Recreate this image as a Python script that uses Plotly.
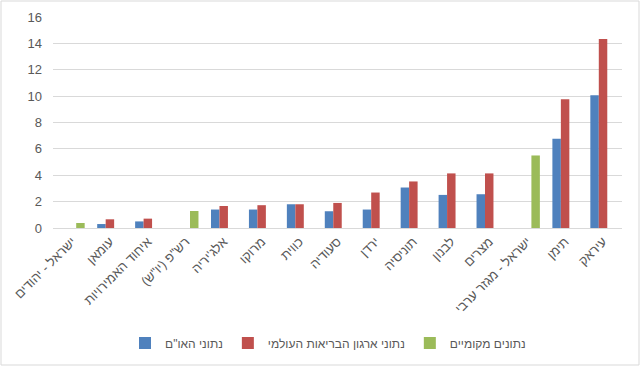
import plotly.graph_objects as go

categories = ["ישראל - יהודים", "עומאן", "איחוד האמירויות", "רש\"פ (יו\"ש)", "אלג'יריה",
              "מרוקו", "כווית", "סעודיה", "ירדן", "תוניסיה", "לבנון", "מצרים",
              "ישראל - מגזר ערבי", "תימן", "עיראק"]
un_values = [None, 0.3, 0.5, None, 1.4, 1.4, 1.8, 1.27, 1.4, 3.07, 2.51, 2.56, None, 6.77, 10.07]
who_values = [None, 0.66, 0.71, None, 1.67, 1.73, 1.8, 1.9, 2.69, 3.53, 4.14, 4.14, None, 9.76, 14.33]
local_values = [0.38, None, None, 1.29, None, None, None, None, None, None, None, None, 5.5, None, None]
series_names = ["נתוני האו\"ם", "נתוני ארגון הבריאות העולמי", "נתונים מקומיים"]
y_ticks = [0, 2, 4, 6, 8, 10, 12, 14, 16]

colors = ["#4F81BD", "#C0504D", "#9BBB59"]
font = "Liberation Sans, DejaVu Sans, sans-serif"
txt = "#595959"

fig = go.Figure()
for name, vals, c in zip(series_names, [un_values, who_values, local_values], colors):
    fig.add_trace(go.Bar(x=categories, y=vals, name=name, marker=dict(color=c, line=dict(width=0))))

W, H = 640, 366
ml, mr, mt, mb = 53, 18, 17, 138
pw, ph = W - ml - mr, H - mt - mb

fig.update_layout(
    width=W, height=H,
    margin=dict(l=ml, r=mr, t=mt, b=mb, autoexpand=False),
    paper_bgcolor="white", plot_bgcolor="white",
    barmode="group", bargap=0.33, bargroupgap=0,
    font=dict(family=font, size=12, color=txt),
    showlegend=True,
    legend=dict(orientation="h", x=(328 - ml) / pw, xanchor="center", y=-(343 - (mt + ph)) / ph,
                yanchor="middle", font=dict(size=12, color=txt), traceorder="normal"),
    xaxis=dict(tickangle=-45, showline=True, linecolor="#d9d9d9", linewidth=1,
               ticks="", automargin=False, tickfont=dict(size=13, color=txt)),
    yaxis=dict(range=[0, 16], tickvals=y_ticks, showgrid=True, gridcolor="#d9d9d9",
               gridwidth=1, zeroline=False, showline=False, ticks="", automargin=False,
               ticklabelstandoff=10, tickfont=dict(size=13, color=txt)),
)

fig.add_shape(type="rect", xref="paper", yref="paper",
              x0=-(ml - 1) / pw, x1=1 + (mr - 1) / pw,
              y0=-(mb - 1) / ph, y1=1 + (mt - 1) / ph,
              line=dict(color="#d9d9d9", width=1), layer="below")

fig.write_html("out.html", config={"displayModeBar": False},
               post_script="document.body.style.margin='0px';document.body.style.overflow='hidden';")
